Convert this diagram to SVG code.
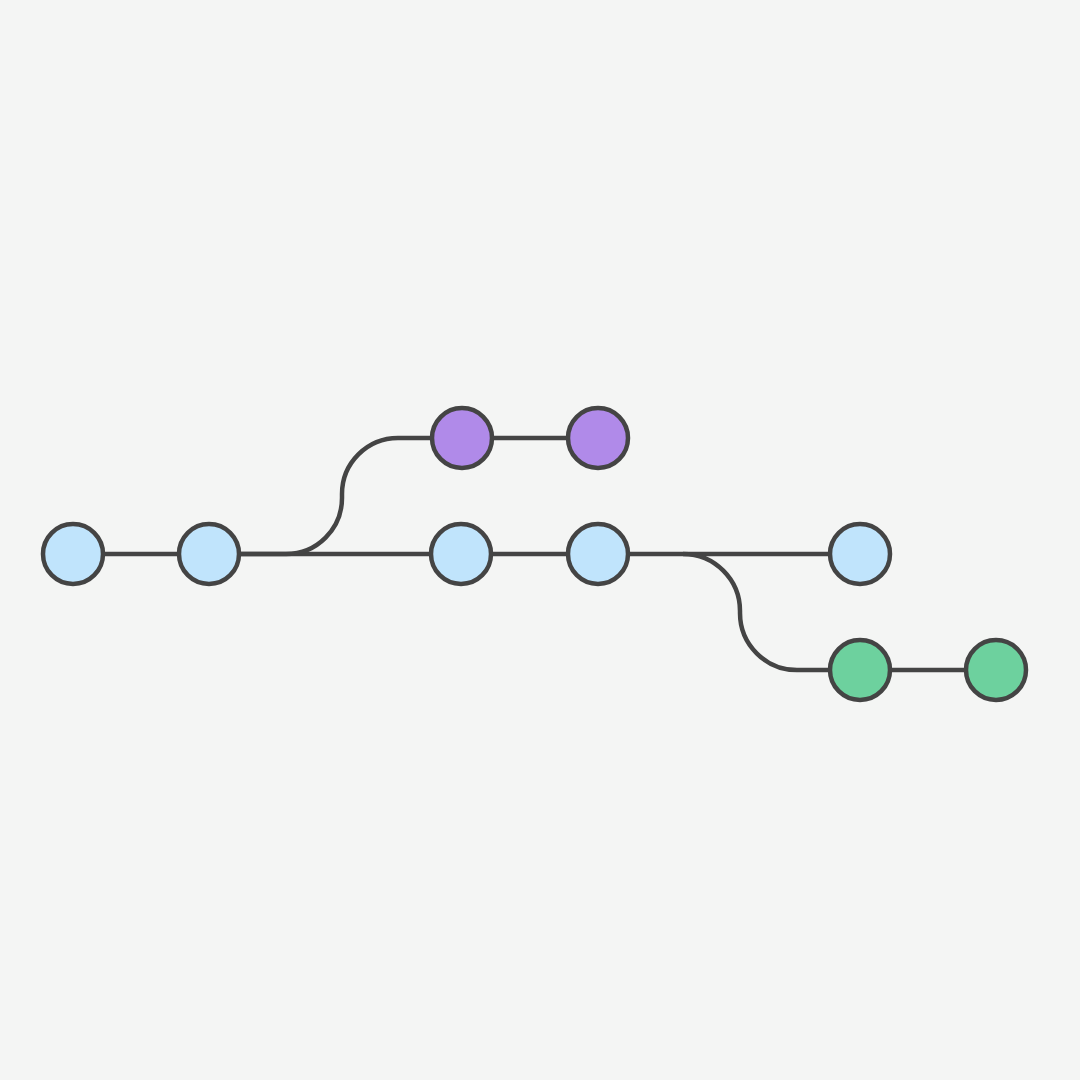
<svg xmlns="http://www.w3.org/2000/svg" width="1080" height="1080" viewBox="0 0 1080 1080">
<style>
.edge{fill:none;stroke:#444444;stroke-width:4.5}
.node{stroke:#444444;stroke-width:4.5}
.main{fill:#c0e4fc}
.feat{fill:#b08ae9}
.fix{fill:#6dd19e}
</style>
<rect width="1080" height="1080" fill="#f4f5f4"/>
<g id="connectors">
<path class="edge" d="M73 554 H860"/>
<path class="edge" d="M240 554 H286 A56 56 0 0 0 342 498 V494 A56 56 0 0 1 398 438 H598"/>
<path class="edge" d="M683 554 A57 57 0 0 1 740 611 V613 A57 57 0 0 0 797 670 H996"/>
</g>
<g id="n1"><circle class="node main" cx="73" cy="554" r="30"/></g>
<g id="n2"><circle class="node main" cx="209" cy="554" r="30"/></g>
<g id="n3"><circle class="node main" cx="461" cy="554" r="30"/></g>
<g id="n4"><circle class="node main" cx="598" cy="554" r="30"/></g>
<g id="n5"><circle class="node main" cx="860" cy="554" r="30"/></g>
<g id="p1"><circle class="node feat" cx="462" cy="438" r="30"/></g>
<g id="p2"><circle class="node feat" cx="598" cy="438" r="30"/></g>
<g id="g1"><circle class="node fix" cx="860" cy="670" r="30"/></g>
<g id="g2"><circle class="node fix" cx="996" cy="670" r="30"/></g>
</svg>
